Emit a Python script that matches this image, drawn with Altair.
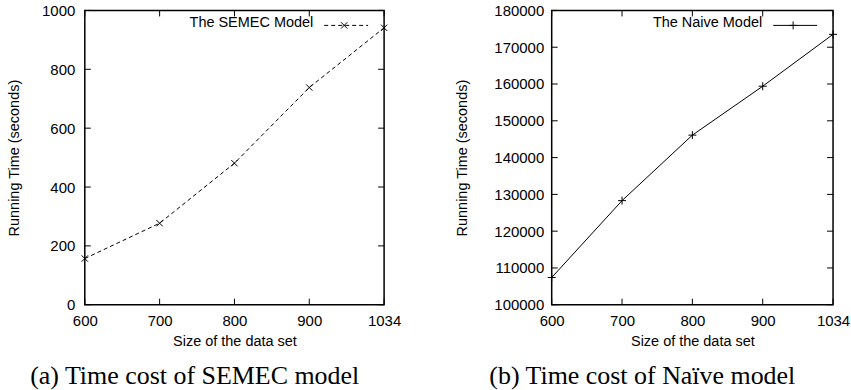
import altair as alt
import pandas as pd

# ---- data ----
sizes = [600, 700, 800, 900, 1034]
semec_time = [157, 277, 481, 738, 941]
naive_time = [107400, 128300, 146100, 159400, 173500]
semec_yticks = [0, 200, 400, 600, 800, 1000]
naive_yticks = [100000, 110000, 120000, 130000, 140000, 150000, 160000, 170000, 180000]

SANS = "Liberation Sans"
SERIF = "Liberation Serif"
H = 295
TICK = 6
X_MARK = "M-1,-1L1,1M-1,1L1,-1"
PLUS_MARK = "M-1,0L1,0M0,-1L0,1"


def panel(values, yticks, ydomain, label, dash, shape, msize, width,
          caption, ytitle_pad, ylabel_pad, cap_dx):
    df = pd.DataFrame({"size": sizes, "time": values})
    xdf = pd.DataFrame({"size": sizes})
    ydf = pd.DataFrame({"time": yticks})
    one = pd.DataFrame({"k": [0]})

    xenc = alt.X(
        "size:O",
        scale=alt.Scale(type="point", padding=0),
        axis=alt.Axis(title="Size of the data set", labelAngle=0, ticks=False,
                      tickSize=0, domain=False, grid=False, labelPadding=9,
                      titlePadding=6),
    )
    yenc = alt.Y(
        "time:Q",
        scale=alt.Scale(domain=ydomain, nice=False, zero=False),
        axis=alt.Axis(title="Running Time (seconds)", values=yticks, format="d",
                      ticks=False, tickSize=0, domain=False, grid=False,
                      labelPadding=ylabel_pad, titlePadding=ytitle_pad),
    )

    line_kw = dict(color="black", strokeWidth=1)
    if dash:
        line_kw["strokeDash"] = dash

    line = alt.Chart(df).mark_line(**line_kw).encode(x=xenc, y=yenc)
    pts = alt.Chart(df).mark_point(shape=shape, size=msize, filled=False,
                                   color="black", strokeWidth=1, opacity=1).encode(x=xenc, y=yenc)

    # inward ticks on all four sides (gnuplot style)
    yl = alt.Chart(ydf).mark_rule(color="black", strokeWidth=1).encode(
        y=yenc, x=alt.value(0), x2=alt.value(TICK))
    yr = alt.Chart(ydf).mark_rule(color="black", strokeWidth=1).encode(
        y=yenc, x=alt.value(width), x2=alt.value(width - TICK))
    xb = alt.Chart(xdf).mark_rule(color="black", strokeWidth=1).encode(
        x=xenc, y=alt.value(H), y2=alt.value(H - TICK))
    xt = alt.Chart(xdf).mark_rule(color="black", strokeWidth=1).encode(
        x=xenc, y=alt.value(0), y2=alt.value(TICK))

    # in-plot key
    ltxt = alt.Chart(one).mark_text(text=label, align="right", baseline="middle",
                                    font=SANS, fontSize=14.5, color="black").encode(
        x=alt.value(width - 71), y=alt.value(13))
    lrule_kw = dict(color="black", strokeWidth=1)
    if dash:
        lrule_kw["strokeDash"] = dash
    lrule = alt.Chart(one).mark_rule(**lrule_kw).encode(
        x=alt.value(width - 60), x2=alt.value(width - 16), y=alt.value(15))
    lpt = alt.Chart(one).mark_point(shape=shape, size=msize, filled=False,
                                    color="black", strokeWidth=1, opacity=1).encode(
        x=alt.value(width - 40), y=alt.value(15))

    return alt.layer(line, pts, yl, yr, xb, xt, ltxt, lrule, lpt).properties(
        width=width, height=H,
        title=alt.TitleParams(caption, orient="bottom", font=SERIF, fontSize=26,
                              fontWeight="normal", color="black", anchor="middle",
                              frame="bounds", dx=cap_dx, offset=15),
    )


left = panel(semec_time, semec_yticks, [0, 1000], "The SEMEC Model", [4, 3],
             X_MARK, 40, 300, "(a) Time cost of SEMEC model", 20, 10, -9)
right = panel(naive_time, naive_yticks, [100000, 180000], "The Naive Model", None,
              PLUS_MARK, 64, 282, "(b) Time cost of Naïve model", 24, 8, -10)

chart = alt.hconcat(left, right, spacing=52).properties(
    padding={"left": 5, "top": 2, "right": 0, "bottom": 0},
    background="white",
).configure_view(
    stroke="black", strokeWidth=1.5
).configure_axis(
    labelFont=SANS, titleFont=SANS, labelFontSize=15, titleFontSize=14.5,
    labelColor="black", titleColor="black", titleFontWeight="normal",
)

chart.save("out.html", embed_options={"renderer": "svg", "actions": False})
